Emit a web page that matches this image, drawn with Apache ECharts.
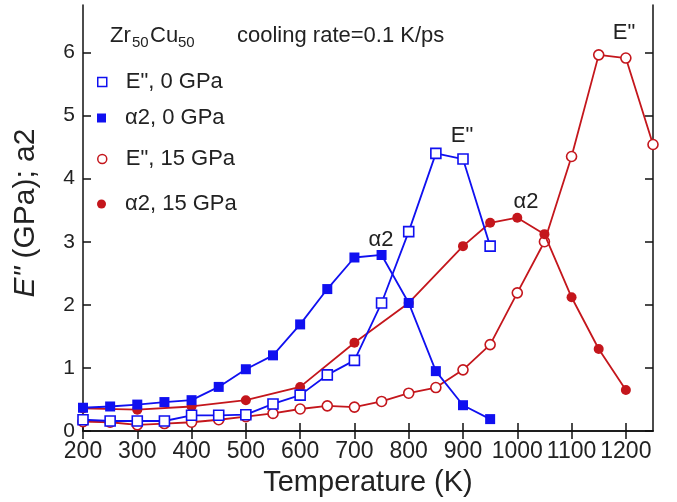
<!DOCTYPE html>
<html>
<head>
<meta charset="utf-8">
<script src="https://cdn.jsdelivr.net/npm/echarts@6/dist/echarts.min.js"></script>
<style>html,body{margin:0;padding:0;background:#fff;}#c{width:677px;height:502px;}</style>
</head>
<body>
<div id="c"></div>
<script>
// ---- data ----
const tempBlue = [200,250,300,350,400,450,500,550,600,650,700,750,800,850,900,950];
const eloss0 = [0.18,0.16,0.16,0.16,0.25,0.25,0.26,0.43,0.57,0.89,1.12,2.03,3.16,4.40,4.31,2.93];
const alpha0 = [0.37,0.39,0.42,0.46,0.49,0.70,0.98,1.20,1.69,2.25,2.75,2.79,2.03,0.95,0.41,0.19];
const tempRedOpen = [200,250,300,350,400,450,500,550,600,650,700,750,800,850,900,950,1000,1050,1100,1150,1200,1250];
const eloss15 = [0.15,0.14,0.10,0.12,0.14,0.18,0.23,0.28,0.35,0.40,0.38,0.47,0.60,0.69,0.97,1.37,2.19,3.00,4.35,5.96,5.91,4.54];
const tempRedFill = [200,300,400,500,600,700,800,900,950,1000,1050,1100,1150,1200];
const alpha15 = [0.36,0.34,0.39,0.49,0.70,1.40,2.03,2.93,3.30,3.38,3.12,2.12,1.30,0.65];
const xTicks = [200,300,400,500,600,700,800,900,1000,1100,1200];
const yTicks = [0,1,2,3,4,5,6];
const seriesNames = ['E", 0 GPa','\u03b12, 0 GPa','E", 15 GPa','\u03b12, 15 GPa'];

const BLUE = '#1010f0';
const RED = '#c4161c';
const FONT = "'Liberation Sans', Arial, sans-serif";

function pairs(xs, ys){ return xs.map((x,i)=>[x, ys[i]]); }

const chart = echarts.init(document.getElementById('c'), null, {renderer:'canvas'});

const axisCommon = {
  axisLine:{show:true, lineStyle:{color:'#111', width:1.5}},
  splitLine:{show:false}
};

function mkLegend(name, top, icon, style){
  return {
    show:true, left:97, top:top, padding:0, itemWidth:9, itemHeight:9,
    data:[{name:name, icon:icon, itemStyle:style}],
    textStyle:{fontSize:22, fontFamily:FONT, color:'#222', padding:[0,0,0,14]},
    selectedMode:false
  };
}

const option = {
  backgroundColor:'#fff',
  animation:false,
  grid:{left:83, right:24, top:5, bottom:69},
  legend:[
    mkLegend(seriesNames[0], 71, 'rect', {color:'#fff', borderColor:BLUE, borderWidth:1.5}),
    mkLegend(seriesNames[1], 107, 'rect', {color:BLUE, borderColor:BLUE, borderWidth:0}),
    mkLegend(seriesNames[2], 148, 'circle', {color:'#fff', borderColor:RED, borderWidth:1.5}),
    mkLegend(seriesNames[3], 193, 'circle', {color:RED, borderColor:RED, borderWidth:0})
  ],
  xAxis:[
    Object.assign({}, axisCommon, {
      type:'value', min:200, max:1250, interval:100, position:'bottom',
      axisTick:{show:true, inside:true, length:8, lineStyle:{color:'#111', width:1.5}, customValues:xTicks},
      axisLabel:{show:true, fontSize:23, fontFamily:FONT, color:'#222', margin:9, customValues:xTicks,
                 hideOverlap:false, formatter:function(v){ return String(v); }},
      name:'Temperature (K)', nameLocation:'middle', nameGap:27,
      nameTextStyle:{fontSize:29, fontFamily:FONT, color:'#222'}
    }),
    Object.assign({}, axisCommon, {
      type:'value', min:200, max:1250, interval:100, position:'top',
      axisTick:{show:true, inside:true, length:8, lineStyle:{color:'#111', width:1.5}, customValues:xTicks},
      axisLabel:{show:false}
    })
  ],
  yAxis:[
    Object.assign({}, axisCommon, {
      type:'value', min:0, max:6.75, interval:1, position:'left',
      axisTick:{show:true, inside:true, length:8, lineStyle:{color:'#111', width:1.5}, customValues:yTicks},
      axisLabel:{show:true, fontSize:21, fontFamily:FONT, color:'#222', margin:8, customValues:yTicks,
                 hideOverlap:false, formatter:function(v){ return String(v); }},
      name:'{i|E"} (GPa); a2', nameLocation:'middle', nameGap:42,
      nameTextStyle:{fontSize:30, fontFamily:FONT, color:'#222', padding:[0,0,0,10], rich:{i:{fontStyle:'italic', fontSize:30, fontFamily:FONT, color:'#222'}}}
    }),
    Object.assign({}, axisCommon, {
      type:'value', min:0, max:6.75, interval:1, position:'right',
      axisTick:{show:true, inside:true, length:8, lineStyle:{color:'#111', width:1.5}, customValues:yTicks},
      axisLabel:{show:false}
    })
  ],
  series:[
    {name:seriesNames[2], type:'line', data:pairs(tempRedOpen, eloss15), symbol:'circle', symbolSize:10,
     itemStyle:{color:'#fff', borderColor:RED, borderWidth:1.6}, lineStyle:{color:RED, width:1.8}, z:2},
    {name:seriesNames[3], type:'line', data:pairs(tempRedFill, alpha15), symbol:'circle', symbolSize:10,
     itemStyle:{color:RED, borderColor:RED, borderWidth:0}, lineStyle:{color:RED, width:1.8}, z:3},
    {name:seriesNames[0], type:'line', data:pairs(tempBlue, eloss0), symbol:'rect', symbolSize:10,
     itemStyle:{color:'#fff', borderColor:BLUE, borderWidth:1.6}, lineStyle:{color:BLUE, width:1.8}, z:4},
    {name:seriesNames[1], type:'line', data:pairs(tempBlue, alpha0), symbol:'rect', symbolSize:10,
     itemStyle:{color:BLUE, borderColor:BLUE, borderWidth:0}, lineStyle:{color:BLUE, width:1.8}, z:5}
  ],
  graphic:[
    {type:'text', x:110, y:36, style:{text:'Zr', fontSize:22, fontFamily:FONT, fill:'#222', align:'left', verticalAlign:'middle'}},
    {type:'text', x:132, y:43, style:{text:'50', fontSize:15, fontFamily:FONT, fill:'#222', align:'left', verticalAlign:'middle'}},
    {type:'text', x:150, y:36, style:{text:'Cu', fontSize:22, fontFamily:FONT, fill:'#222', align:'left', verticalAlign:'middle'}},
    {type:'text', x:178, y:43, style:{text:'50', fontSize:15, fontFamily:FONT, fill:'#222', align:'left', verticalAlign:'middle'}},
    {type:'text', x:237, y:36, style:{text:'cooling rate=0.1 K/ps', fontSize:22, fontFamily:FONT, fill:'#222', align:'left', verticalAlign:'middle'}},
    {type:'text', x:381, y:240, style:{text:'\u03b12', fontSize:22, fontFamily:FONT, fill:'#222', align:'center', verticalAlign:'middle'}},
    {type:'text', x:462, y:136, style:{text:'E"', fontSize:22, fontFamily:FONT, fill:'#222', align:'center', verticalAlign:'middle'}},
    {type:'text', x:526, y:202, style:{text:'\u03b12', fontSize:22, fontFamily:FONT, fill:'#222', align:'center', verticalAlign:'middle'}},
    {type:'text', x:624, y:33, style:{text:'E"', fontSize:22, fontFamily:FONT, fill:'#222', align:'center', verticalAlign:'middle'}}
  ]
};
chart.setOption(option);
</script>
</body>
</html>
